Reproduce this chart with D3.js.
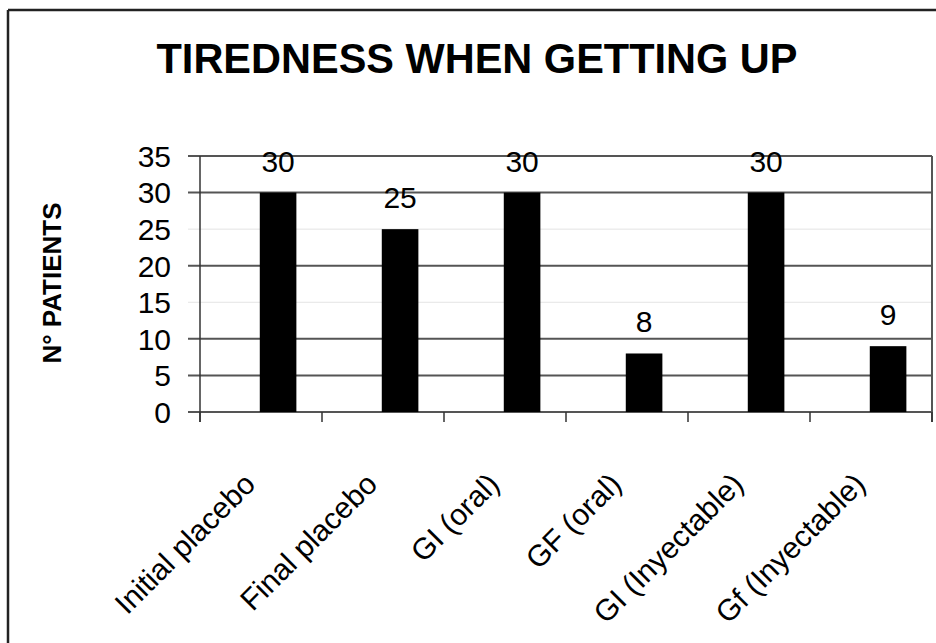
<!DOCTYPE html>
<html>
<head>
<meta charset="utf-8">
<script src="https://cdn.jsdelivr.net/npm/d3@7"></script>
<style>
  html, body { margin: 0; padding: 0; background: #fff; }
  svg { display: block; font-family: "Liberation Sans", Arial, sans-serif; }
</style>
</head>
<body>
<svg id="chart" width="936" height="643"></svg>
<script>
const title = "TIREDNESS WHEN GETTING UP";
const yTitle = "N° PATIENTS";
const categories = ["Initial placebo", "Final placebo", "GI (oral)", "GF (oral)", "GI (Inyectable)", "Gf (Inyectable)"];
const values = [30, 25, 30, 8, 30, 9];
const yTicks = [0, 5, 10, 15, 20, 25, 30, 35];
const visibleGrid = [0, 5, 10, 20, 30, 35];

const svg = d3.select("#chart");
const W = 936, H = 643;
const plot = { left: 200, right: 932, top: 156, bottom: 412 };

// frame (top and left edges visible)
svg.append("line").attr("x1", 8).attr("x2", W).attr("y1", 10).attr("y2", 10)
  .attr("stroke", "#222").attr("stroke-width", 2.5);
svg.append("line").attr("x1", 8).attr("x2", 8).attr("y1", 10).attr("y2", H)
  .attr("stroke", "#222").attr("stroke-width", 2.5);

const x = d3.scaleBand().domain(categories).range([plot.left, plot.right]).padding(0);
const y = d3.scaleLinear().domain([0, 35]).range([plot.bottom, plot.top]);

// title
svg.append("text").attr("x", 477).attr("y", 73).attr("text-anchor", "middle")
  .attr("font-size", 43).attr("font-weight", "bold").attr("fill", "#000")
  .attr("textLength", 641).attr("lengthAdjust", "spacingAndGlyphs")
  .text(title);

// gridlines
svg.append("g").selectAll("line").data(yTicks).join("line")
  .attr("x1", plot.left - 12).attr("x2", plot.right)
  .attr("y1", d => y(d)).attr("y2", d => y(d))
  .attr("stroke", d => visibleGrid.includes(d) ? "#555" : "#e4e4e4")
  .attr("stroke-width", d => visibleGrid.includes(d) ? 2 : 1);

// y axis line and right edge
svg.append("line").attr("x1", plot.left).attr("x2", plot.left)
  .attr("y1", plot.top).attr("y2", plot.bottom + 10).attr("stroke", "#333").attr("stroke-width", 1.5);
svg.append("line").attr("x1", plot.right).attr("x2", plot.right)
  .attr("y1", plot.top).attr("y2", plot.bottom + 10).attr("stroke", "#555").attr("stroke-width", 2);

// y tick labels
svg.append("g").selectAll("text").data(yTicks).join("text")
  .attr("x", 171).attr("y", d => y(d)).attr("dy", "0.36em")
  .attr("text-anchor", "end").attr("font-size", 30).attr("fill", "#000")
  .text(d => d);

// x tick marks at band boundaries
const bounds = categories.map(c => x(c)).concat([plot.right]);
svg.append("g").selectAll("line").data(bounds).join("line")
  .attr("x1", d => d).attr("x2", d => d)
  .attr("y1", plot.bottom).attr("y2", plot.bottom + 10)
  .attr("stroke", "#333").attr("stroke-width", 1.5);

// bars
const bw = x.bandwidth();
svg.append("g").selectAll("rect").data(values).join("rect")
  .attr("x", (d, i) => x(categories[i]) + bw * 0.49)
  .attr("width", bw * 0.3)
  .attr("y", d => y(d))
  .attr("height", d => y(0) - y(d))
  .attr("fill", "#000");

// value labels
svg.append("g").selectAll("text").data(values).join("text")
  .attr("x", (d, i) => x(categories[i]) + bw * 0.64)
  .attr("y", d => y(d) - 21)
  .attr("text-anchor", "middle").attr("font-size", 30).attr("fill", "#000")
  .text(d => d);

// x labels rotated
svg.append("g").selectAll("text").data(categories).join("text")
  .attr("transform", d => `translate(${x(d) + bw / 2 - 4},486) rotate(-45)`)
  .attr("text-anchor", "end").attr("font-size", 30).attr("fill", "#000")
  .text(d => d);

// y axis title
svg.append("text")
  .attr("transform", "translate(61,283) rotate(-90)")
  .attr("text-anchor", "middle").attr("font-size", 26).attr("font-weight", "bold")
  .attr("fill", "#000").text(yTitle);
</script>
</body>
</html>
